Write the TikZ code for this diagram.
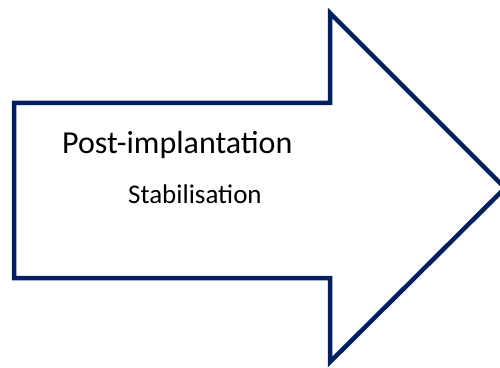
\documentclass[tikz,border=0pt]{standalone}
\usepackage{fontspec}
\setmainfont{Carlito}
\definecolor{navy}{HTML}{002060}
\begin{document}
\begin{tikzpicture}
\useasboundingbox (0pt, 0pt) rectangle (500pt, 367pt);
\draw[color=navy, fill=white, line width=4.5pt] (14pt, 264pt) -- (330pt, 264pt) -- (330pt, 354pt) -- (505pt, 179pt) -- (330pt, 5pt) -- (330pt, 89pt) -- (14pt, 89pt) -- cycle;
\node[anchor=base west, inner sep=0pt, font=\fontsize{32}{38}\selectfont] (phase) at (62pt, 213pt) {Post-implantation};
\node[anchor=base west, inner sep=0pt, font=\fontsize{27}{32}\selectfont] (stage) at (128pt, 163pt) {Stabilisation};
\end{tikzpicture}
\end{document}
